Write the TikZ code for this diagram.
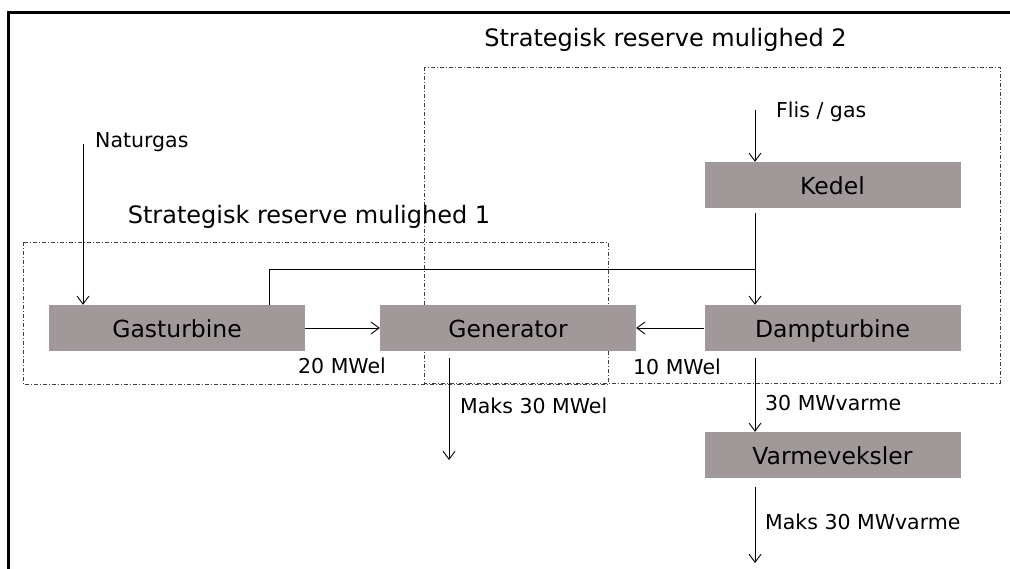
\documentclass[tikz,border=0pt]{standalone}
\usepackage{fontspec}
\setmainfont{DejaVu Sans}
\usetikzlibrary{arrows.meta}
\definecolor{boxgray}{RGB}{161,153,153}

\begin{document}
\begin{tikzpicture}[
    x=1pt, y=-1pt,
    unit/.style={fill=boxgray, minimum width=256pt, minimum height=46pt, inner sep=0pt, text height=20pt, text depth=1pt, font=\fontsize{23.5}{28}\selectfont},
    lbl/.style={anchor=mid west, inner sep=0pt, font=\fontsize{20.5}{24}\selectfont},
    ttl/.style={inner sep=0pt, font=\fontsize{24}{28}\selectfont},
    zone/.style={draw=black!75, line width=0.8pt, dash pattern=on 4pt off 2pt on 1pt off 2pt},
    flow/.style={-{Straight Barb[length=8pt,width=12pt]}, line width=0.9pt},
]
    \useasboundingbox (0,0) rectangle (1010,569);
    \draw[line width=2.5pt] (8.5,575) -- (8.5,12.5) -- (1020,12.5);

    \draw[zone] (424,67) rectangle (1000,383);
    \draw[zone] (23,242) rectangle (608,384);
    \node[ttl] (mul2) at (665.5,40) {Strategisk reserve mulighed 2};
    \node[ttl] (mul1) at (309,217) {Strategisk reserve mulighed 1};

    \node[unit] (gas) at (177,328) {Gasturbine};
    \node[unit] (gen) at (508,328) {Generator};
    \node[unit] (damp) at (832.5,328) {Dampturbine};
    \node[unit] (kedel) at (832.5,185) {Kedel};
    \node[unit] (varme) at (832.5,455) {Varmeveksler};

    \coordinate (natin) at (83,144);
    \coordinate (flisin) at (755,110);
    \coordinate (split) at (755,269);
    \coordinate (tap) at (269,269);
    \coordinate (genout) at (449,460);
    \coordinate (varmeout) at (755,563);

    \draw[flow] (natin) -- (natin |- gas.north);
    \draw[flow] (flisin) -- (flisin |- kedel.north);
    \draw[flow, shorten <=5pt] (kedel.south -| split) -- (damp.north -| split);
    \draw[line width=0.9pt] (split) -- (tap) -- (tap |- gas.north);
    \draw[flow] (gas) -- (gen);
    \draw[flow] (damp) -- (gen);
    \draw[flow, shorten <=7pt] (gen.south -| genout) -- (genout);
    \draw[flow, shorten <=7pt] (damp.south -| split) -- (varme.north -| split);
    \draw[flow, shorten <=9pt] (varme.south -| split) -- (varmeout);

    \node[lbl] (natlbl) at (95,145) {Naturgas};
    \node[lbl] (flislbl) at (776,115) {Flis / gas};
    \node[lbl] (el20) at (298,371) {20 MWel};
    \node[lbl] (el10) at (633,372) {10 MWel};
    \node[lbl] (elmaks) at (460,411) {Maks 30 MWel};
    \node[lbl] (varme30) at (765,408) {30 MWvarme};
    \node[lbl] (varmemaks) at (765,527) {Maks 30 MWvarme};
\end{tikzpicture}
\end{document}
